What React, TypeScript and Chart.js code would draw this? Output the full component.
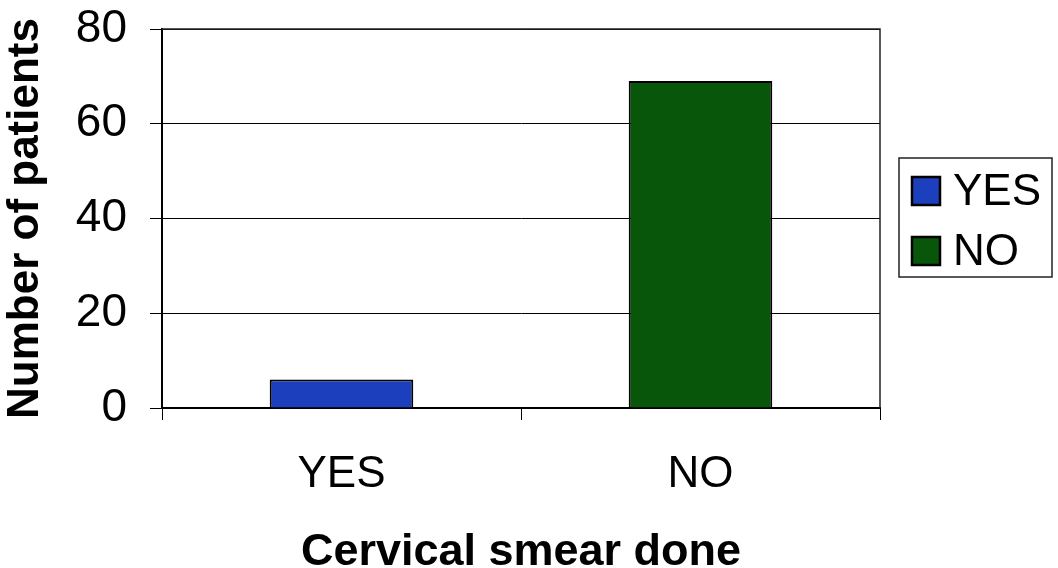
import React, { useEffect, useRef } from "react";
import { Chart, registerables } from "chart.js";

Chart.register(...registerables);

const categories = ["YES", "NO"];
const patientCounts = [6, 69];
const barColors = ["#1c40bd", "#07560a"];
const yTickValues = [0, 20, 40, 60, 80];
const xAxisTitle = "Cervical smear done";
const yAxisTitle = "Number of patients";

const FONT = "'Liberation Sans', Arial, Helvetica, sans-serif";

const frameAndLegend = {
  id: "frameAndLegend",
  afterDraw(chart: any) {
    const { ctx, chartArea } = chart;
    ctx.save();
    // plot frame (top / right)
    ctx.strokeStyle = "#222";
    ctx.lineWidth = 1.5;
    ctx.beginPath();
    ctx.moveTo(chartArea.left, chartArea.top);
    ctx.lineTo(chartArea.right, chartArea.top);
    ctx.lineTo(chartArea.right, chartArea.bottom);
    ctx.stroke();

    // legend
    const labels: string[] = chart.data.labels;
    const colors: string[] = chart.data.datasets[0].backgroundColor;
    const bw = 153;
    const bh = 119;
    const bx = chartArea.right + 19;
    const by = (chartArea.top + chartArea.bottom) / 2 - bh / 2 - 1;
    ctx.lineWidth = 1.5;
    ctx.strokeStyle = "#222";
    ctx.strokeRect(bx, by, bw, bh);
    ctx.font = `44px ${FONT}`;
    ctx.textBaseline = "alphabetic";
    ctx.textAlign = "left";
    labels.forEach((lab, i) => {
      const baseY = by + 47 + i * 60;
      const sq = 28;
      ctx.fillStyle = colors[i];
      ctx.fillRect(bx + 13, baseY - sq, sq, sq);
      ctx.lineWidth = 2.5;
      ctx.strokeStyle = "#000";
      ctx.strokeRect(bx + 13, baseY - sq, sq, sq);
      ctx.fillStyle = "#000";
      ctx.fillText(lab, bx + 54, baseY);
    });
    ctx.restore();
  },
};

export default function App() {
  const canvasRef = useRef<HTMLCanvasElement | null>(null);

  useEffect(() => {
    if (!canvasRef.current) return;
    const chart = new Chart(canvasRef.current, {
      type: "bar",
      data: {
        labels: categories,
        datasets: [
          {
            label: "Number of patients",
            data: patientCounts,
            backgroundColor: barColors,
            borderColor: "#000",
            borderWidth: 2,
            categoryPercentage: 1,
            barPercentage: 0.4,
          },
        ],
      },
      options: {
        animation: false,
        responsive: false,
        maintainAspectRatio: false,
        layout: { padding: { top: 29, right: 178, bottom: 0, left: 0 } },
        plugins: {
          legend: { display: false },
          tooltip: { enabled: false },
        },
        scales: {
          x: {
            offset: true,
            grid: {
              display: true,
              offset: true,
              drawOnChartArea: false,
              drawTicks: true,
              tickLength: 12,
              color: "#000",
              lineWidth: 1,
            },
            border: { display: true, color: "#000", width: 2 },
            ticks: {
              color: "#000",
              font: { family: FONT, size: 44 },
              padding: 28,
            },
            title: {
              display: true,
              text: xAxisTitle,
              color: "#000",
              font: { family: FONT, size: 45, weight: "bold", lineHeight: 0.68 },
              padding: { top: 0, bottom: 0 },
            },
            afterFit: (s: any) => {
              s.height = 160;
              s.paddingLeft = 0;
              s.paddingRight = 0;
            },
          },
          y: {
            min: 0,
            max: 80,
            afterBuildTicks: (s: any) => {
              s.ticks = yTickValues.map((v) => ({ value: v }));
            },
            grid: {
              color: "#000",
              lineWidth: 1,
              drawTicks: true,
              tickLength: 12,
            },
            border: { display: true, color: "#000", width: 2 },
            ticks: {
              color: "#000",
              font: { family: FONT, size: 46 },
              padding: 23,
            },
            title: {
              display: true,
              text: yAxisTitle,
              color: "#000",
              font: { family: FONT, size: 44, weight: "bold", lineHeight: 1 },
              padding: { top: 4, bottom: 0 },
            },
            afterFit: (s: any) => {
              s.width = 162;
              s.paddingTop = 0;
              s.paddingBottom = 0;
            },
          },
        },
      },
      plugins: [frameAndLegend],
    });
    return () => chart.destroy();
  }, []);

  return (
    <div style={{ position: "absolute", left: 0, top: 0, width: 1058, height: 568, background: "#fff" }}>
      <canvas ref={canvasRef} width={1058} height={568} style={{ display: "block" }} />
    </div>
  );
}
